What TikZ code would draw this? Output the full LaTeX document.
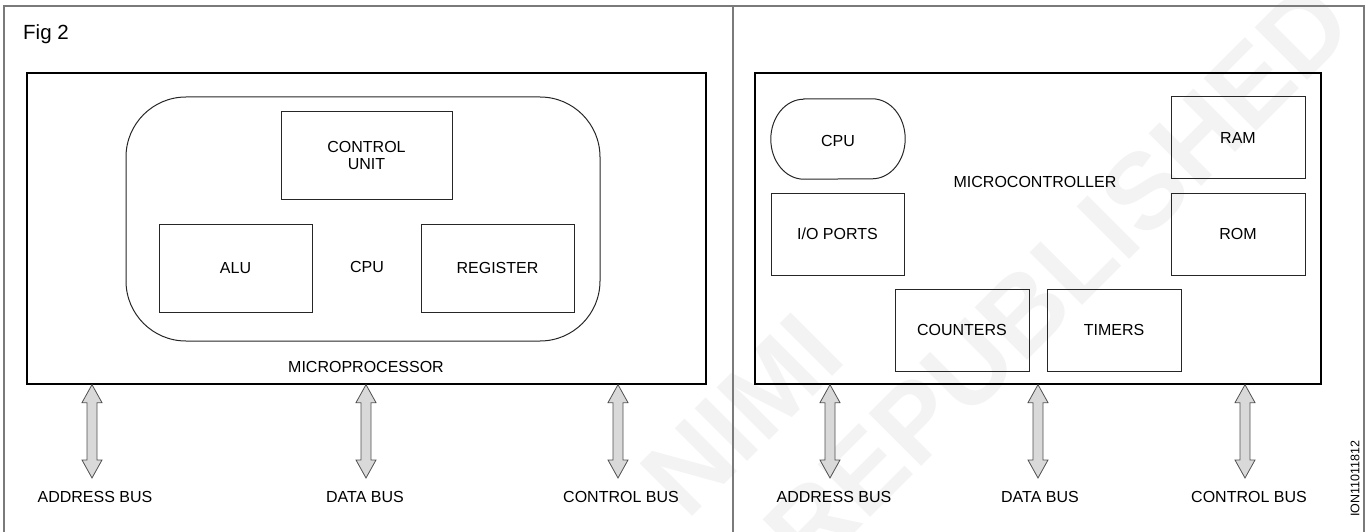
\documentclass[tikz,border=0pt]{standalone}
\usepackage{fontspec}
\setmainfont{Liberation Sans}
\usetikzlibrary{calc}
\definecolor{framegray}{HTML}{7A7A7A}
\definecolor{busfill}{HTML}{D9D9D9}
\definecolor{busline}{HTML}{505050}
\definecolor{wmark}{HTML}{F3F3F3}
\newcommand\busarrow[2]{%
  \draw[busarr] let \p1=(#1), \p2=(#2) in
   (\x1,\y1) -- (\x1+10pt,\y1-18pt) -- (\x1+5pt,\y1-18pt) -- (\x1+5pt,\y2+18pt)
   -- (\x1+10pt,\y2+18pt) -- (\x1,\y2) -- (\x1-10pt,\y2+18pt) -- (\x1-5pt,\y2+18pt)
   -- (\x1-5pt,\y1-18pt) -- (\x1-10pt,\y1-18pt) -- cycle;}
\begin{document}
\begin{tikzpicture}[x=1pt,y=-1pt,
  every node/.style={font=\fontsize{16}{18.5}\selectfont, inner sep=0pt},
  bigbox/.style={draw=black, line width=1.3pt, minimum width=#1},
  blk/.style={draw=black!85, line width=1pt, minimum width=#1, align=center},
  frame/.style={draw=framegray, line width=1.5pt},
  busarr/.style={draw=busline, fill=busfill, line width=0.8pt, line join=miter},
  wm/.style={text=wmark, font=\fontsize{108}{110}\selectfont\bfseries, rotate=45}]
\useasboundingbox (0,0) rectangle (1366,532);
% watermark
\node[wm] (wm1) at (742,415) {NIMI};
\node[wm] (wm2) at (1058,278) {REPUBLISHED};
% frame
\draw[frame] (4,532) -- (4,6) -- (1364,6) -- (1364,532);
\draw[frame] (733,6) -- (733,532);
\node[anchor=west, font=\fontsize{20.5}{23}\selectfont] (fig) at (23,34) {Fig 2};
% ---------- left panel ----------
\node[bigbox=679pt, minimum height=311pt] (mp) at (366.5,228.5) {};
\node[draw=black!85, line width=1pt, rounded corners=60pt, minimum width=474pt, minimum height=244pt] (cpuL) at (363,219) {};
\node[blk=171pt, minimum height=87pt] (cu) at (366.5,155.5) {CONTROL\\[-1pt]UNIT};
\node[blk=153pt, minimum height=88pt] (alu) at (235.5,268) {ALU};
\node[blk=153pt, minimum height=88pt] (reg) at (497.5,268) {REGISTER};
\node (cpuLt) at (367,267) {CPU};
\node (mpt) at (366,367) {MICROPROCESSOR};
\coordinate (a1) at (92,478);
\coordinate (a2) at (366,478);
\coordinate (a3) at (618,478);
\busarrow{mp.south -| a1}{a1}
\busarrow{mp.south -| a2}{a2}
\busarrow{mp.south -| a3}{a3}
\node (l1) at (95,497) {ADDRESS BUS};
\node (l2) at (365,497) {DATA BUS};
\node (l3) at (621,497) {CONTROL BUS};
% ---------- right panel ----------
\node[bigbox=566pt, minimum height=311pt] (mc) at (1038,228.5) {};
\node[minimum width=134pt, minimum height=80pt] (cpuR) at (838,139) {};
\node (cpuRt) at (838,141) {CPU};
\draw[draw=black!85, line width=1pt]
  ($(cpuR.north west)+(33pt,0pt)$) -- ($(cpuR.north east)+(-33pt,0pt)$)
  arc[start angle=90, end angle=-90, x radius=33pt, y radius=40pt]
  -- ($(cpuR.south west)+(33pt,0pt)$)
  arc[start angle=270, end angle=90, x radius=33pt, y radius=40pt] -- cycle;
\node[blk=134pt, minimum height=82pt] (ram) at (1238,138) {RAM};
\node[blk=134pt, minimum height=82pt] (rom) at (1238,234) {ROM};
\node[blk=133pt, minimum height=82pt] (io) at (837.5,234) {I/O PORTS};
\node[blk=134pt, minimum height=82pt] (cnt) at (962,330) {COUNTERS};
\node[blk=134pt, minimum height=82pt] (tim) at (1114,330) {TIMERS};
\node (mct) at (1035,182) {MICROCONTROLLER};
\coordinate (b1) at (830,478);
\coordinate (b2) at (1038,478);
\coordinate (b3) at (1245,478);
\busarrow{mc.south -| b1}{b1}
\busarrow{mc.south -| b2}{b2}
\busarrow{mc.south -| b3}{b3}
\node (r1) at (834,497) {ADDRESS BUS};
\node (r2) at (1040,497) {DATA BUS};
\node (r3) at (1249,497) {CONTROL BUS};
\node[rotate=90, font=\fontsize{12.5}{14}\selectfont] (code) at (1355,479) {ION11011812};
\end{tikzpicture}
\end{document}
